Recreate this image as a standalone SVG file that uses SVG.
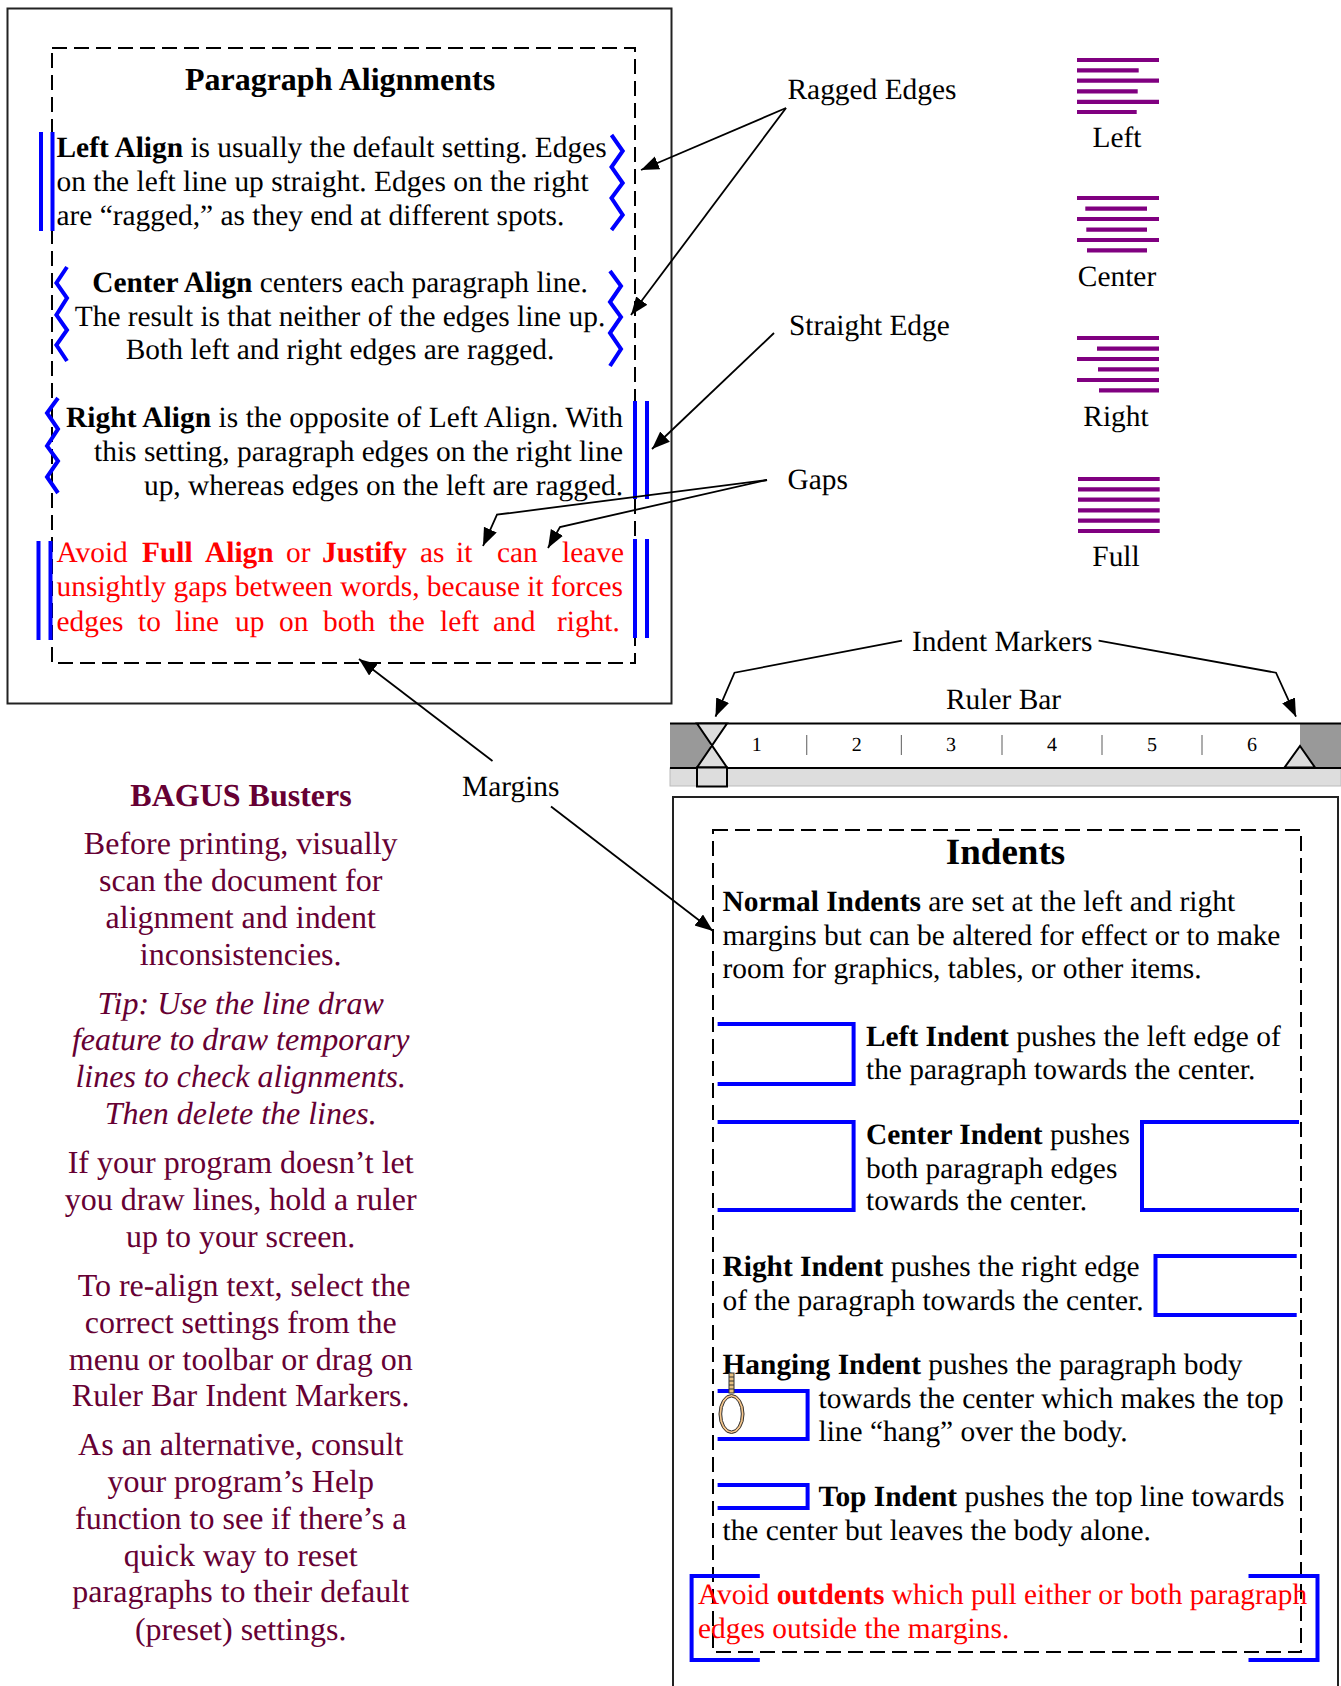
<svg xmlns="http://www.w3.org/2000/svg" width="1341" height="1686" viewBox="0 0 1341 1686">
<style>
text{font-family:"Liberation Serif","Times New Roman",serif;font-size:29.4px;fill:#000;text-rendering:geometricPrecision}
.b{font-weight:bold}
.r,.r tspan{fill:#f00}
.m{text-anchor:middle}
.e{text-anchor:end}
.t{font-size:32px;font-weight:bold}
.p,.p text{font-size:32px;fill:#660033;text-anchor:middle}
.i{font-style:italic}
.frame{fill:none;stroke:#222;stroke-width:2}
.dash{fill:none;stroke:#000;stroke-width:2;stroke-dasharray:15 7}
.blue{fill:none;stroke:#00f;stroke-width:4}
.pl{stroke:#800080;stroke-width:4.2}
.ln{fill:none;stroke:#000;stroke-width:1.8;marker-end:url(#ah)}
.tick{stroke:#777;stroke-width:1.2}
.mk{fill:#ddd;stroke:#000;stroke-width:2}
.n{font-size:20px}
</style>
<defs>
<marker id="ah" markerUnits="userSpaceOnUse" markerWidth="20" markerHeight="16" refX="18" refY="7" orient="auto"><path d="M0 0L18 7L0 14z" fill="#000"/></marker>
</defs>
<rect width="1341" height="1686" fill="#fff"/>

<g id="alignments">
<rect class="frame" x="7.5" y="8.5" width="664" height="695"/>
<rect class="dash" x="52" y="48" width="583" height="615"/>
<text class="t m" x="340" y="90">Paragraph Alignments</text>
<text x="56.500" y="157"><tspan class="b">Left Align</tspan> is usually the default setting. Edges</text>
<text x="56.500" y="191">on the left line up straight. Edges on the right</text>
<text x="56.500" y="225">are “ragged,” as they end at different spots.</text>
<text class="m" x="340" y="292"><tspan class="b">Center Align</tspan> centers each paragraph line.</text>
<text class="m" x="340" y="326">The result is that neither of the edges line up.</text>
<text class="m" x="340" y="359">Both left and right edges are ragged.</text>
<text x="66" y="427" textLength="557"><tspan class="b">Right Align</tspan> is the opposite of Left Align. With</text>
<text class="e" x="623" y="461">this setting, paragraph edges on the right line</text>
<text class="e" x="623" y="494.500">up, whereas edges on the left are ragged.</text>
<text class="r" y="561.500"><tspan x="56.500">Avoid</tspan><tspan class="b" x="142">Full</tspan><tspan class="b" x="205">Align</tspan><tspan x="286">or</tspan><tspan class="b" x="322">Justify</tspan><tspan x="420">as</tspan><tspan x="456">it</tspan><tspan x="497">can</tspan><tspan x="562">leave</tspan></text>
<text class="r" x="56.500" y="596" textLength="566.500">unsightly gaps between words, because it forces</text>
<text class="r" y="630.500"><tspan x="56.500">edges</tspan><tspan x="138">to</tspan><tspan x="175">line</tspan><tspan x="235">up</tspan><tspan x="279">on</tspan><tspan x="323">both</tspan><tspan x="389">the</tspan><tspan x="440">left</tspan><tspan x="493">and</tspan><tspan x="557">right.</tspan></text>
<path class="blue" d="M41 132V231M52.500 132V231"/>
<path class="blue" d="M611.500 135L622.700 151L611.500 167L622.700 183L611.500 198L622.700 215L611.500 230"/>
<path class="blue" d="M67 267L56.400 283L67 298L56.400 315L67 330L56.400 345L67 361"/>
<path class="blue" d="M610 271L621 286L610 302L621 317L610 333L621 349L610 366"/>
<path class="blue" d="M58 398L47 413L58 429L47 446L58 461L47 477L58 493"/>
<path class="blue" d="M635 401V499M647 401V499"/>
<path class="blue" d="M38.500 541V640M50.500 541V640"/>
<path class="blue" d="M635 539V638M647 539V638"/>
</g>

<g id="callouts">
<text x="787.500" y="99">Ragged Edges</text>
<text x="789" y="334.500">Straight Edge</text>
<text x="787.500" y="489">Gaps</text>
<text x="462" y="796">Margins</text>
</g>

<g id="icon-left" transform="translate(-1 0)">
<path class="pl" d="M1078 60H1160M1078 70.400H1139.700M1078 80.700H1160M1078 91.400H1138.700M1078 101.800H1160M1078 112H1137.700"/>
<text class="m" x="1118" y="146.500">Left</text>
</g>
<g id="icon-center" transform="translate(-1 0)">
<path class="pl" d="M1078 198H1160M1086.300 208.600H1148M1078 219H1160M1087.300 229.600H1148M1078 240H1160M1088 250.400H1148"/>
<text class="m" x="1118" y="286">Center</text>
</g>
<g id="icon-right" transform="translate(-1 0)">
<path class="pl" d="M1078 338H1160M1098 348.600H1160M1078 359H1160M1099 369.300H1160M1078 380H1160M1100 390.400H1160"/>
<text class="m" x="1117" y="425.500">Right</text>
</g>
<g id="icon-full" transform="translate(-1 0)">
<path class="pl" d="M1079 479H1160.700M1079 489.300H1160.700M1079 499.600H1160.700M1079 510.400H1160.700M1079 520.700H1160.700M1079 531H1160.700"/>
<text class="m" x="1117" y="566">Full</text>
</g>

<g id="bagus">
<g class="p">
<text class="t" x="241" y="806">BAGUS Busters</text>
<text x="240.700" y="854">Before printing, visually</text>
<text x="240.700" y="890.500">scan the document for</text>
<text x="240.700" y="928">alignment and indent</text>
<text x="240.700" y="965">inconsistencies.</text>
<text class="i" x="240.700" y="1014">Tip: Use the line draw</text>
<text class="i" x="240.700" y="1050">feature to draw temporary</text>
<text class="i" x="240.700" y="1086.500">lines to check alignments.</text>
<text class="i" x="240.700" y="1124">Then delete the lines.</text>
<text x="240.700" y="1172.500">If your program doesn’t let</text>
<text x="240.700" y="1210">you draw lines, hold a ruler</text>
<text x="240.700" y="1246.500">up to your screen.</text>
<text x="244" y="1296">To re-align text, select the</text>
<text x="240.700" y="1332.500">correct settings from the</text>
<text x="240.700" y="1370">menu or toolbar or drag on</text>
<text x="240.700" y="1405.500">Ruler Bar Indent Markers.</text>
<text x="240.700" y="1455">As an alternative, consult</text>
<text x="240.700" y="1491.500">your program’s Help</text>
<text x="240.700" y="1529">function to see if there’s a</text>
<text x="240.700" y="1565.500">quick way to reset</text>
<text x="240.700" y="1601.500">paragraphs to their default</text>
<text x="240.700" y="1640">(preset) settings.</text>
</g>
</g>

<g id="ruler" transform="translate(-1 0)">
<text x="913" y="651">Indent Markers</text>
<text x="947" y="709">Ruler Bar</text>
<rect x="671" y="768" width="671" height="18" fill="#ddd" stroke="#bbb"/>
<rect x="671" y="723.500" width="671" height="44.500" fill="#fff"/>
<rect x="671" y="723.500" width="40" height="44.500" fill="#999"/>
<rect x="1301" y="723.500" width="41" height="44.500" fill="#999"/>
<path d="M671 723.500H1342M671 768H1342" stroke="#000" stroke-width="2" fill="none"/>
<path class="mk" d="M698 723.500H728L698 767.500H728z"/>
<rect class="mk" x="698" y="767.500" width="30" height="19"/>
<path class="mk" d="M1301 746L1316 767.500H1285.500z"/>
<path class="tick" d="M807.700 735V755M902.400 735V755M1003 735V755M1103 735V755M1203 735V755"/>
<text class="n m" x="757.700" y="751">1</text>
<text class="n m" x="857.700" y="751">2</text>
<text class="n m" x="952" y="751">3</text>
<text class="n m" x="1053" y="751">4</text>
<text class="n m" x="1153" y="751">5</text>
<text class="n m" x="1253" y="751">6</text>
</g>

<g id="indents" transform="translate(-1 0)">
<path class="frame" d="M674 1686V797H1339V1686"/>
<rect class="dash" x="714" y="830" width="588" height="822"/>
<text x="1006.500" y="864" class="m" style="font-size:37px;font-weight:bold">Indents</text>
<text x="723.500" y="911"><tspan class="b">Normal Indents</tspan> are set at the left and right</text>
<text x="723.500" y="945">margins but can be altered for effect or to make</text>
<text x="723.500" y="977.500">room for graphics, tables, or other items.</text>
<text x="867" y="1046"><tspan class="b">Left Indent</tspan> pushes the left edge of</text>
<text x="867" y="1079">the paragraph towards the center.</text>
<path class="blue" d="M718.600 1024H854.600V1084H718.600"/>
<text x="867" y="1144"><tspan class="b">Center Indent</tspan> pushes</text>
<text x="867" y="1178">both paragraph edges</text>
<text x="867" y="1210">towards the center.</text>
<path class="blue" d="M718.600 1122H854.600V1210H718.600"/>
<path class="blue" d="M1300 1122H1143V1210H1300"/>
<text x="723.500" y="1276"><tspan class="b">Right Indent</tspan> pushes the right edge</text>
<text x="723.500" y="1310">of the paragraph towards the center.</text>
<path class="blue" d="M1297.700 1256H1156.500V1315H1297.700"/>
<text x="723.500" y="1374"><tspan class="b">Hanging Indent</tspan> pushes the paragraph body</text>
<text x="819.500" y="1407.500">towards the center which makes the top</text>
<text x="819.500" y="1440.500">line “hang” over the body.</text>
<path class="blue" d="M718.600 1391H808.600V1439H718.600"/>
<g id="noose">
<rect x="730" y="1373" width="5" height="20" fill="#e8c080" stroke="#333" stroke-width="1"/>
<path d="M730 1377H735M730 1381H735M730 1385H735M730 1389H735" stroke="#333" stroke-width="1"/>
<ellipse cx="732.500" cy="1414" rx="11.200" ry="18.200" fill="none" stroke="#f5c58a" stroke-width="3"/>
<ellipse cx="732.500" cy="1414" rx="12.500" ry="19.500" fill="none" stroke="#333" stroke-width="1"/>
<ellipse cx="732.500" cy="1414" rx="9.800" ry="17" fill="none" stroke="#333" stroke-width="1"/>
</g>
<text x="819.500" y="1506"><tspan class="b">Top Indent</tspan> pushes the top line towards</text>
<text x="723.500" y="1540">the center but leaves the body alone.</text>
<path class="blue" d="M718.600 1485H808.600V1508H718.600"/>
<text class="r" x="699" y="1604">Avoid <tspan class="b">outdents</tspan> which pull either or both paragraph</text>
<text class="r" x="699" y="1638">edges outside the margins.</text>
<path class="blue" d="M760.800 1576H692.600V1660H760.800"/>
<path class="blue" d="M1249.500 1576H1318.500V1660H1249.500"/>
</g>

<g id="connectors">
<path class="ln" d="M786 108L641 170"/>
<path class="ln" d="M786 108L631 315"/>
<path class="ln" d="M774 333L652 449"/>
<path class="ln" d="M767 480L497 514.700L483 546"/>
<path class="ln" d="M767 480L560 527L548 548"/>
<path class="ln" d="M492.500 761L359 659"/>
<path class="ln" d="M551 806.500L713 931"/>
<path class="ln" d="M902 640.700L734.500 672.700L715.500 716.700"/>
<path class="ln" d="M1098.600 640.700L1276 672.700L1296 716.700"/>
</g>
</svg>
